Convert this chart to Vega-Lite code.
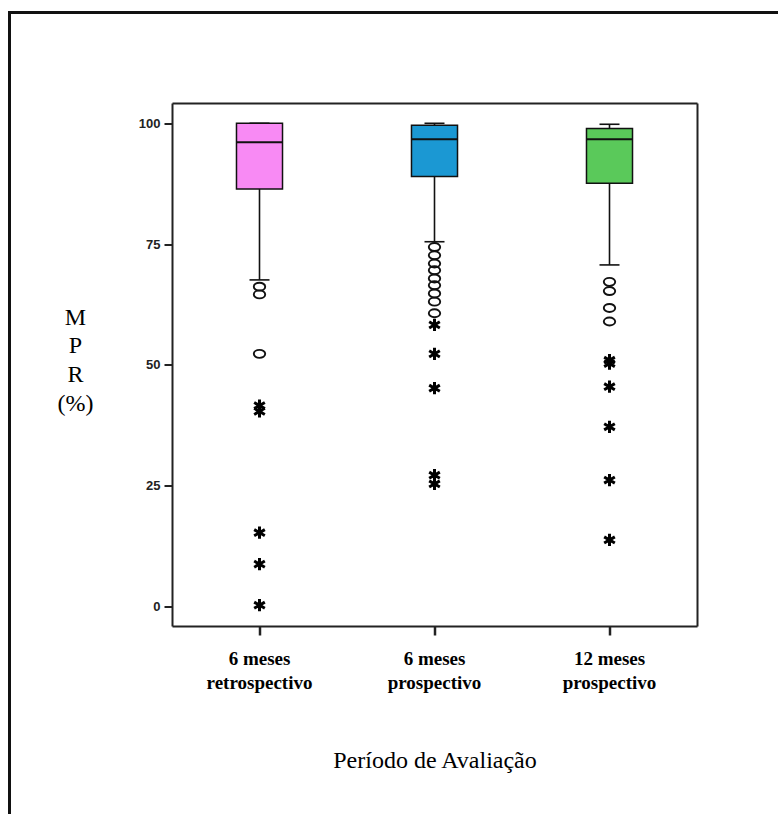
{
  "$schema": "https://vega.github.io/schema/vega-lite/v6.json",
  "autosize": {"type": "none"},
  "width": 773.5,
  "height": 806.5,
  "padding": {"left": 9.5, "top": 12.5, "right": -5, "bottom": -5},
  "background": "white",
  "config": {"view": {"stroke": "#111", "strokeWidth": 3}},
  "datasets": {
    "boxes": [
      {"group": "6 meses retrospectivo", "lo": 67.6, "q1": 86.4, "med": 96.1, "q3": 100, "hi": 100},
      {"group": "6 meses prospectivo", "lo": 75.5, "q1": 89.0, "med": 96.7, "q3": 99.6, "hi": 100},
      {"group": "12 meses prospectivo", "lo": 70.7, "q1": 87.6, "med": 96.7, "q3": 98.9, "hi": 99.8}
    ],
    "outliers": [
      {"group": "6 meses retrospectivo", "value": 66.2, "kind": "circle"},
      {"group": "6 meses retrospectivo", "value": 64.6, "kind": "circle"},
      {"group": "6 meses retrospectivo", "value": 52.3, "kind": "circle"},
      {"group": "6 meses retrospectivo", "value": 41.6, "kind": "star"},
      {"group": "6 meses retrospectivo", "value": 40.4, "kind": "star"},
      {"group": "6 meses retrospectivo", "value": 15.3, "kind": "star"},
      {"group": "6 meses retrospectivo", "value": 8.8, "kind": "star"},
      {"group": "6 meses retrospectivo", "value": 0.3, "kind": "star"},
      {"group": "6 meses prospectivo", "value": 74.4, "kind": "circle"},
      {"group": "6 meses prospectivo", "value": 72.7, "kind": "circle"},
      {"group": "6 meses prospectivo", "value": 71.0, "kind": "circle"},
      {"group": "6 meses prospectivo", "value": 69.6, "kind": "circle"},
      {"group": "6 meses prospectivo", "value": 67.9, "kind": "circle"},
      {"group": "6 meses prospectivo", "value": 66.5, "kind": "circle"},
      {"group": "6 meses prospectivo", "value": 64.8, "kind": "circle"},
      {"group": "6 meses prospectivo", "value": 63.1, "kind": "circle"},
      {"group": "6 meses prospectivo", "value": 60.7, "kind": "circle"},
      {"group": "6 meses prospectivo", "value": 58.3, "kind": "star"},
      {"group": "6 meses prospectivo", "value": 52.3, "kind": "star"},
      {"group": "6 meses prospectivo", "value": 45.2, "kind": "star"},
      {"group": "6 meses prospectivo", "value": 27.2, "kind": "star"},
      {"group": "6 meses prospectivo", "value": 25.4, "kind": "star"},
      {"group": "12 meses prospectivo", "value": 67.2, "kind": "circle"},
      {"group": "12 meses prospectivo", "value": 65.3, "kind": "circle"},
      {"group": "12 meses prospectivo", "value": 61.8, "kind": "circle"},
      {"group": "12 meses prospectivo", "value": 59.0, "kind": "circle"},
      {"group": "12 meses prospectivo", "value": 51.0, "kind": "star"},
      {"group": "12 meses prospectivo", "value": 50.3, "kind": "star"},
      {"group": "12 meses prospectivo", "value": 45.5, "kind": "star"},
      {"group": "12 meses prospectivo", "value": 37.2, "kind": "star"},
      {"group": "12 meses prospectivo", "value": 26.2, "kind": "star"},
      {"group": "12 meses prospectivo", "value": 13.8, "kind": "star"}
    ]
  },
  "layer": [
    {
      "data": {"name": "boxes"},
      "mark": {"type": "rule", "color": "#111", "strokeWidth": 1.6},
      "encoding": {
        "x": {
          "field": "group", "type": "nominal", "sort": null,
          "scale": {
            "type": "band",
            "domain": ["6 meses retrospectivo", "6 meses prospectivo", "12 meses prospectivo"],
            "range": [162.5, 687.5], "paddingInner": 0, "paddingOuter": 0
          },
          "axis": {
            "orient": "bottom", "offset": -193,
            "title": "Período de Avaliação",
            "titleFont": "Liberation Serif", "titleFontSize": 24, "titleFontWeight": "normal",
            "titleColor": "#000", "titleY": 134, "titleBaseline": "middle",
            "labelFont": "Liberation Serif", "labelFontSize": 19, "labelFontWeight": "bold",
            "labelColor": "#000", "labelAngle": 0, "labelLineHeight": 24, "labelPadding": 14,
            "labelBaseline": "top",
            "labelExpr": "[slice(datum.label, 0, indexof(datum.label, 'meses') + 5), slice(datum.label, indexof(datum.label, 'meses') + 6)]",
            "tickSize": 9, "tickWidth": 2.5, "tickColor": "#222",
            "domainColor": "#222", "domainWidth": 2
          }
        },
        "y": {
          "field": "lo", "type": "quantitative",
          "scale": {"domain": [-4, 104.2], "range": [613.5, 90.5], "nice": false, "zero": false},
          "axis": {
            "orient": "left", "offset": -162.5, "values": [0, 25, 50, 75, 100], "grid": false,
            "title": ["M", "P", "R", "(%)"],
            "titleAngle": 0, "titleAlign": "center", "titleBaseline": "middle",
            "titleX": -97, "titleY": 304.5,
            "titleFont": "Liberation Serif", "titleFontSize": 24, "titleFontWeight": "normal",
            "titleColor": "#000", "titleLineHeight": 28.7,
            "labelFont": "Liberation Sans", "labelFontSize": 13, "labelFontWeight": "bold",
            "labelColor": "#222", "labelPadding": 4,
            "tickSize": 8, "tickWidth": 2, "tickColor": "#222",
            "domainColor": "#222", "domainWidth": 2
          }
        },
        "y2": {"field": "hi"}
      }
    },
    {
      "data": {"name": "boxes"},
      "mark": {"type": "tick", "orient": "horizontal", "color": "#111", "opacity": 1, "size": 20, "thickness": 1.6},
      "encoding": {
        "x": {"field": "group", "type": "nominal", "sort": null, "axis": null},
        "y": {"field": "lo", "type": "quantitative", "axis": null}
      }
    },
    {
      "data": {"name": "boxes"},
      "mark": {"type": "tick", "orient": "horizontal", "color": "#111", "opacity": 1, "size": 20, "thickness": 1.6},
      "encoding": {
        "x": {"field": "group", "type": "nominal", "sort": null, "axis": null},
        "y": {"field": "hi", "type": "quantitative", "axis": null}
      }
    },
    {
      "data": {"name": "boxes"},
      "mark": {"type": "bar", "width": {"band": 0.263}, "stroke": "#111", "strokeWidth": 1.5},
      "encoding": {
        "x": {
          "field": "group", "type": "nominal", "sort": null,
          "axis": {"orient": "top", "offset": -90.5, "labels": false, "ticks": false, "title": null,
                   "domainColor": "#222", "domainWidth": 2}
        },
        "y": {
          "field": "q1", "type": "quantitative",
          "axis": {"orient": "right", "offset": -86, "labels": false, "ticks": false, "title": null,
                   "grid": false, "domainColor": "#222", "domainWidth": 2}
        },
        "y2": {"field": "q3"},
        "fill": {
          "field": "group", "type": "nominal",
          "scale": {
            "domain": ["6 meses retrospectivo", "6 meses prospectivo", "12 meses prospectivo"],
            "range": ["#f88af4", "#1b98d3", "#5ac95a"]
          },
          "legend": null
        }
      }
    },
    {
      "data": {"name": "boxes"},
      "mark": {"type": "tick", "orient": "horizontal", "color": "#111", "opacity": 1, "size": 46, "thickness": 2},
      "encoding": {
        "x": {"field": "group", "type": "nominal", "sort": null, "axis": null},
        "y": {"field": "med", "type": "quantitative", "axis": null}
      }
    },
    {
      "data": {"name": "outliers"},
      "transform": [{"filter": "datum.kind === 'circle'"}],
      "mark": {
        "type": "point", "filled": false, "stroke": "#111", "opacity": 1, "strokeWidth": 1.9, "size": 130,
        "shape": "M-1,0A1,0.7,0,1,0,1,0A1,0.7,0,1,0,-1,0Z"
      },
      "encoding": {
        "x": {"field": "group", "type": "nominal", "sort": null, "axis": null},
        "y": {"field": "value", "type": "quantitative", "axis": null}
      }
    },
    {
      "data": {"name": "outliers"},
      "transform": [{"filter": "datum.kind === 'star'"}],
      "mark": {
        "type": "point", "filled": false, "stroke": "#000", "opacity": 1, "strokeWidth": 3, "size": 150,
        "shape": "M0,-1L0,1M-0.87,-0.5L0.87,0.5M-0.87,0.5L0.87,-0.5"
      },
      "encoding": {
        "x": {"field": "group", "type": "nominal", "sort": null, "axis": null},
        "y": {"field": "value", "type": "quantitative", "axis": null}
      }
    }
  ],
  "resolve": {"axis": {"x": "independent", "y": "independent"}}
}
